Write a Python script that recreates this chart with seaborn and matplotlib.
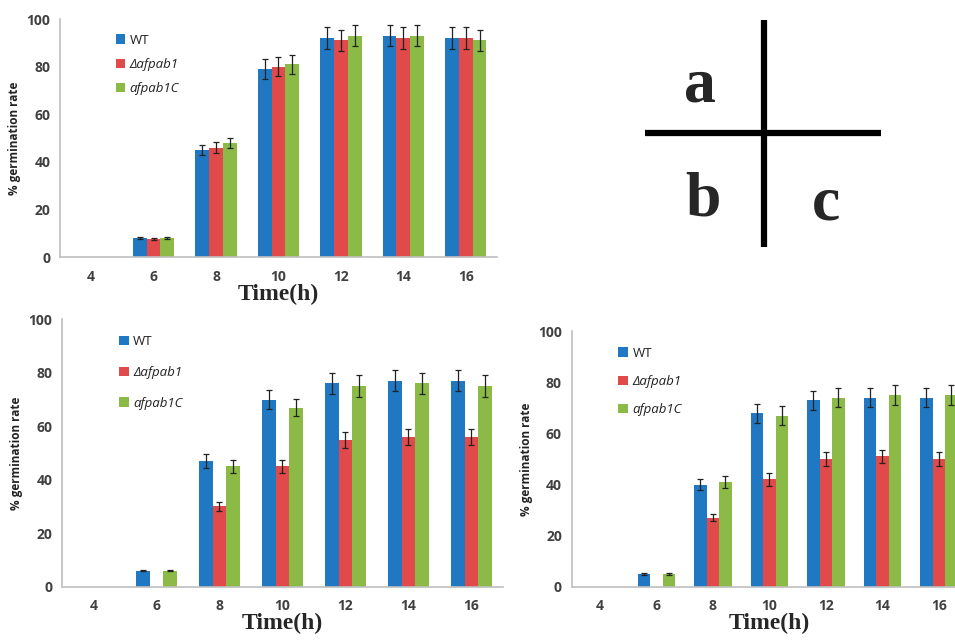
import pandas as pd
import numpy as np
import matplotlib
matplotlib.use("Agg")
import matplotlib.pyplot as plt
import seaborn as sns

# Data
time_h = ["4", "6", "8", "10", "12", "14", "16"]
strains = ["WT", "\u0394afpab1", "afpab1C"]

a_wt = [0, 8, 45, 79, 92, 93, 92]
a_del = [0, 7.5, 46, 80, 91, 92, 92]
a_comp = [0, 8, 48, 81, 93, 93, 91]
a_wt_err = [0, 0.5, 2.2, 4, 4.5, 4.5, 4.5]
a_del_err = [0, 0.5, 2.2, 4, 4.5, 4.5, 4.5]
a_comp_err = [0, 0.5, 2.2, 4, 4.5, 4.5, 4.5]

b_wt = [0, 6, 47, 70, 76, 77, 77]
b_del = [0, 0, 30, 45, 55, 56, 56]
b_comp = [0, 6, 45, 67, 75, 76, 75]
b_wt_err = [0, 0.3, 2.5, 3.5, 4, 4, 4]
b_del_err = [0, 0, 1.6, 2.3, 3, 3, 3]
b_comp_err = [0, 0.3, 2.3, 3.3, 4, 4, 4]

c_wt = [0, 5, 40, 68, 73, 74, 74]
c_del = [0, 0, 27, 42, 50, 51, 50]
c_comp = [0, 5, 41, 67, 74, 75, 75]
c_wt_err = [0, 0.3, 2, 3.7, 3.7, 3.7, 3.7]
c_del_err = [0, 0, 1.4, 2.4, 2.7, 2.7, 2.7]
c_comp_err = [0, 0.3, 2.3, 3.7, 3.8, 3.9, 3.9]

palette = ["#1f78c1", "#e04a4a", "#8bbb46"]
axis_grey = "#bfbfbf"
text_grey = "#404040"


def make_df(wt, dl, cp):
    rows = []
    for name, vals in zip(strains, [wt, dl, cp]):
        for t, v in zip(time_h, vals):
            rows.append({"time": t, "strain": name, "rate": v})
    return pd.DataFrame(rows)


def draw_panel(ax, wt, dl, cp, errs, legend_y, legend_gap):
    df = make_df(wt, dl, cp)
    sns.barplot(data=df, x="time", y="rate", hue="strain", order=time_h,
                hue_order=strains, palette=palette, width=0.66,
                errorbar=None, saturation=1, linewidth=0, ax=ax, legend=True)
    # error bars from bar centres
    for cont, err, vals in zip(ax.containers, errs, [wt, dl, cp]):
        for bar, e, v in zip(cont, err, vals):
            if v > 0:
                xc = bar.get_x() + bar.get_width() / 2
                ax.errorbar(xc, v, yerr=e, fmt="none", ecolor="#222222",
                            elinewidth=0.9, capsize=2.2, capthick=0.9)
    ax.set_ylim(0, 100)
    ax.set_xlim(-0.5, 6.5)
    ax.set_yticks(range(0, 101, 20))
    ax.set_xlabel("Time(h)", fontsize=17, fontweight="bold",
                  family="Liberation Serif", labelpad=0)
    ax.set_ylabel("% germination rate", fontsize=8.5, fontweight="bold",
                  color="#222222", labelpad=4)
    for s in ["top", "right"]:
        ax.spines[s].set_visible(False)
    for s in ["left", "bottom"]:
        ax.spines[s].set_color(axis_grey)
        ax.spines[s].set_linewidth(1.2)
    ax.set_xticks(np.arange(-0.5, 7, 1), minor=True)
    ax.tick_params(axis="x", which="major", length=0, pad=9,
                   labelsize=10, labelcolor=text_grey)
    ax.tick_params(axis="x", which="minor", length=4, color=axis_grey, width=1.2)
    ax.tick_params(axis="y", length=4, color=axis_grey, width=1.2,
                   labelsize=10, labelcolor=text_grey, pad=3)
    for lbl in ax.get_xticklabels() + ax.get_yticklabels():
        lbl.set_fontweight("bold")
    leg = ax.legend(loc="upper left", bbox_to_anchor=legend_y, frameon=False,
                    fontsize=9.5, handlelength=0.75, handleheight=0.75,
                    handletextpad=0.3, labelspacing=legend_gap, borderaxespad=0)
    for i, t in enumerate(leg.get_texts()):
        t.set_color("#222222")
        if i > 0:
            t.set_fontstyle("italic")


sns.set_theme(style="white")
plt.rcParams["font.family"] = ["Open Sans", "DejaVu Sans"]

fig = plt.figure(figsize=(9.55, 6.41), dpi=100)

ax_a = fig.add_axes([0.0628, 0.599, 0.4576, 0.3713])
draw_panel(ax_a, a_wt, a_del, a_comp, [a_wt_err, a_del_err, a_comp_err],
           (0.115, 0.96), 0.85)

ax_b = fig.add_axes([0.0649, 0.0847, 0.4618, 0.4172])
draw_panel(ax_b, b_wt, b_del, b_comp, [b_wt_err, b_del_err, b_comp_err],
           (0.118, 0.96), 1.35)

ax_c = fig.add_axes([0.5986, 0.0847, 0.4141, 0.3983])
draw_panel(ax_c, c_wt, c_del, c_comp, [c_wt_err, c_del_err, c_comp_err],
           (0.105, 0.96), 1.15)

# panel key in the upper right
ax_k = fig.add_axes([0, 0, 1, 1], facecolor="none")
ax_k.set_xlim(0, 955)
ax_k.set_ylim(641, 0)
ax_k.axis("off")
ax_k.plot([764, 764], [20, 247], color="black", lw=4.5, solid_capstyle="butt")
ax_k.plot([645, 881], [133, 133], color="black", lw=4.5, solid_capstyle="butt")
for ch, x, y in [("a", 700, 86), ("b", 703, 200), ("c", 826, 204)]:
    ax_k.text(x, y, ch, fontsize=46, fontweight="bold",
              family="Liberation Serif", ha="center", va="center")

fig.savefig("out.png", dpi=100)
